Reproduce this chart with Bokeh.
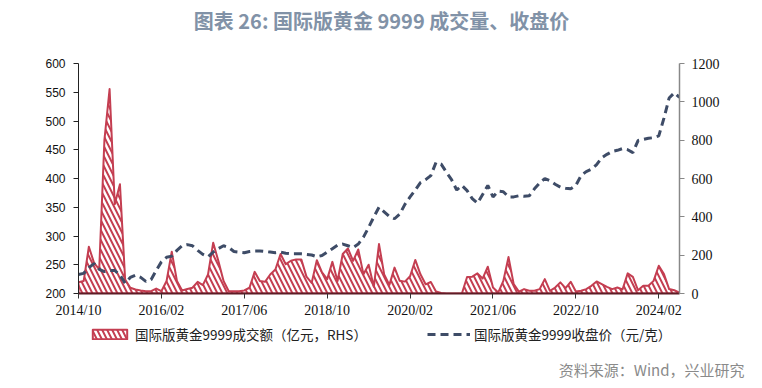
import pandas as pd
from bokeh.plotting import figure
from bokeh.layouts import column
from bokeh.models import Range1d, LinearAxis, FixedTicker, Legend, LegendItem, Label, Title
from bokeh.embed import file_html
from bokeh.resources import INLINE

# ---- data (monthly, 2014/10 .. 2024/06) ----
months = list(pd.date_range("2014-10-01", periods=117, freq="MS").strftime("%Y/%m"))

volume = [59, 65, 244, 160, 126, 800, 1067, 466, 570, 73,
          30, 21, 16, 12, 12, 26, 12, 65, 218, 65,
          16, 23, 30, 61, 44, 99, 265, 169, 65, 12,
          12, 12, 16, 30, 113, 65, 61, 99, 125, 206,
          153, 171, 178, 178, 88, 55, 174, 110, 75, 165,
          65, 206, 235, 170, 230, 100, 150, 35, 258, 100,
          45, 135, 66, 62, 90, 175, 100, 48, 60, 10,
          3, 0, 0, 0, 0, 86, 88, 105, 78, 140,
          31, 5, 66, 190, 49, 10, 23, 14, 14, 23,
          75, 14, 31, 58, 28, 61, 10, 14, 23, 40,
          63, 49, 35, 23, 31, 21, 105, 87, 17, 40,
          40, 66, 145, 101, 23, 17, 5]

price = [233, 235, 245, 252, 242, 238, 240, 240, 232, 218,
         228, 232, 228, 221, 224, 240, 255, 263, 265, 275,
         283, 285, 283, 275, 268, 264, 272, 278, 283, 280,
         273, 272, 271, 273, 274, 274, 273, 272, 271, 272,
         270, 269, 269, 269, 268, 267, 264, 266, 272, 278,
         284, 286, 283, 280, 286, 298, 315, 333, 350, 342,
         334, 330, 338, 355, 368, 380, 393, 398, 405, 428,
         425, 411, 398, 380, 388, 379, 365, 357, 372, 388,
         368, 378, 377, 368, 368, 370, 369, 370, 382, 392,
         400, 396, 390, 385, 383, 382, 388, 405, 412, 416,
         424, 436, 442, 447, 449, 452, 450, 445, 466, 468,
         470, 471, 474, 505, 540, 549, 541]

tick_labels = ["2014/10", "2016/02", "2017/06", "2018/10",
               "2020/02", "2021/06", "2022/10", "2024/02"]
left_ticks = [200, 250, 300, 350, 400, 450, 500, 550, 600]
right_ticks = [0, 200, 400, 600, 800, 1000, 1200]

title_text = "图表 26: 国际版黄金 9999 成交量、收盘价"
vol_label = "国际版黄金9999成交额（亿元，RHS）"
price_label = "国际版黄金9999收盘价（元/克）"
source_text = "资料来源：Wind，兴业研究"

RED = "#c43e51"
NAVY = "#3e4c67"
W = 754

idx = list(range(len(months)))
tick_pos = [months.index(t) for t in tick_labels]
area_x = idx + [idx[-1], idx[0]]
area_y = volume + [0, 0]

area_style = dict(fill_color="white", line_color=RED, line_width=2, line_join="round",
                  hatch_pattern="\\", hatch_color=RED, hatch_weight=2, hatch_scale=10)
line_style = dict(line_color=NAVY, line_width=3, line_dash="8 5")


def strip(height):
    # text-only strip; its frame is aligned with the main chart's frame by the column
    f = figure(width=W, height=height, output_backend="svg", toolbar_location=None,
               x_axis_type=None, y_axis_type=None, x_range=Range1d(0, 1), y_range=Range1d(-2, -1),
               min_border_left=0, min_border_right=0, min_border_top=0, min_border_bottom=0)
    f.outline_line_color = None
    f.xgrid.visible = False
    f.ygrid.visible = False
    return f


# ---- title strip ----
top = strip(55)
top.add_layout(Label(x=303, y=35, x_units="screen", y_units="screen", text=title_text,
                     text_align="center", text_baseline="middle",
                     text_font="Noto Sans CJK SC", text_font_size="20px",
                     text_font_style="bold", text_color="#8192a7"))

# ---- main chart ----
p = figure(width=W, height=266, output_backend="svg", toolbar_location=None,
           x_range=Range1d(idx[0], idx[-1]), y_range=Range1d(left_ticks[0], left_ticks[-1]),
           min_border_left=78, min_border_right=75, min_border_top=8, min_border_bottom=28)
p.extra_y_ranges = {"vol": Range1d(right_ticks[0], right_ticks[-1])}
p.outline_line_color = None
p.xgrid.visible = False
p.ygrid.visible = False

p.patch(x=area_x, y=area_y, y_range_name="vol", **area_style)   # volume (right axis)
p.line(idx, price, **line_style)                                 # price (left axis)

ax = p.xaxis[0]
ax.ticker = FixedTicker(ticks=tick_pos)
ax.major_label_overrides = {pos: lab for pos, lab in zip(tick_pos, tick_labels)}
ax.axis_line_color = "#5e1c26"
ax.axis_line_width = 2
ax.major_tick_line_color = "#333333"
ax.major_tick_out = 5
ax.major_tick_in = 0
ax.minor_tick_line_color = None
ax.major_label_text_font = "Liberation Serif"
ax.major_label_text_font_size = "14px"
ax.major_label_text_color = "#111111"
ax.major_label_standoff = 4

ly = p.yaxis[0]
ly.ticker = FixedTicker(ticks=left_ticks)
ly.axis_line_color = "#222222"
ly.major_tick_line_color = "#222222"
ly.major_tick_out = 5
ly.major_tick_in = 0
ly.minor_tick_line_color = None
ly.major_label_text_font = "Liberation Sans"
ly.major_label_text_font_size = "12px"
ly.major_label_text_color = "#111111"
ly.major_label_standoff = 8

ry = LinearAxis(y_range_name="vol", ticker=FixedTicker(ticks=right_ticks))
ry.axis_line_color = "#888888"
ry.axis_line_width = 1.5
ry.major_tick_line_color = "#888888"
ry.major_tick_out = 5
ry.major_tick_in = 0
ry.minor_tick_line_color = None
ry.major_label_text_font = "Liberation Serif"
ry.major_label_text_font_size = "14px"
ry.major_label_text_color = "#111111"
ry.major_label_standoff = 7
p.add_layout(ry, "right")

# ---- legend strip (same data drawn out of view, used only for the legend glyphs) ----
leg = strip(30)
leg_area = leg.patch(x=area_x, y=area_y, **area_style)
leg_line = leg.line(idx, price, **line_style)
legend = Legend(items=[LegendItem(label=vol_label, renderers=[leg_area]),
                       LegendItem(label=price_label, renderers=[leg_line])],
                location=(10, 7), orientation="horizontal",
                glyph_width=43, glyph_height=12, spacing=60,
                label_text_font="Noto Sans CJK SC", label_text_font_size="13.5px",
                label_text_color="#222222", label_standoff=4, padding=0, margin=0,
                border_line_color=None, background_fill_alpha=0)
leg.add_layout(legend)

# ---- source strip ----
src = strip(29)
src.add_layout(Title(text=source_text, align="right", text_font="Noto Sans CJK SC",
                     text_font_size="15px", text_font_style="normal",
                     text_color="#8a8a8a", offset=-65, standoff=2), "below")

page = column(top, p, leg, src, spacing=0)
open("out.html", "w").write(file_html(page, INLINE))
